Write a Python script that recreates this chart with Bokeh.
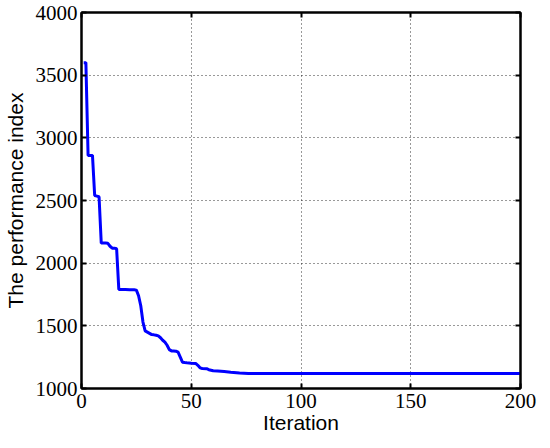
from bokeh.plotting import figure
from bokeh.models import Range1d, LinearAxis, FixedTicker
from bokeh.embed import file_html
from bokeh.resources import INLINE

iterations = [1, 2, 3, 4, 5, 6, 7, 8, 9, 10, 11, 12, 13, 14, 15, 16, 17, 18, 20, 22, 24, 25,
              26, 27, 28, 29, 30, 31, 32, 33, 34, 35, 36, 37, 38, 39, 40, 41, 42, 43, 44, 45,
              46, 47, 48, 50, 52, 53, 54, 55, 57, 58, 60, 62, 65, 68, 72, 76, 80, 100, 150, 200]
values = [3600, 3600, 2860, 2860, 2860, 2540, 2535, 2530, 2160, 2160, 2160, 2158, 2135, 2120, 2120, 2115, 1790, 1790, 1790, 1788, 1788, 1785,
          1740, 1660, 1530, 1460, 1450, 1440, 1430, 1428, 1425, 1420, 1405, 1385, 1370, 1345, 1310, 1300, 1300, 1298, 1290, 1250,
          1210, 1207, 1205, 1202, 1200, 1185, 1165, 1160, 1158, 1150, 1142, 1140, 1135, 1130, 1124, 1120, 1120, 1120, 1120, 1120]

x_ticks = [0, 50, 100, 150, 200]
y_ticks = [1000, 1500, 2000, 2500, 3000, 3500, 4000]

SERIF = "'Liberation Serif', serif"

p = figure(frame_width=439, frame_height=376, output_backend="svg", toolbar_location=None,
           x_range=Range1d(0, 200), y_range=Range1d(1000, 4000),
           x_axis_label="Iteration", y_axis_label="The performance index")
p.min_border_left = 77
p.min_border_right = 18
p.min_border_top = 12
p.min_border_bottom = 0
p.outline_line_color = "black"
p.outline_line_width = 2
p.background_fill_color = "white"
p.border_fill_color = "white"

p.xaxis.major_label_text_font = SERIF
p.yaxis.major_label_text_font = SERIF

for ax in (p.xaxis[0], p.yaxis[0]):
    ax.axis_line_width = 2
    ax.axis_line_color = "black"
    ax.major_tick_in = 5
    ax.major_tick_out = 0
    ax.major_tick_line_width = 2
    ax.minor_tick_line_color = None
    ax.major_label_text_font_size = "21px"
    ax.major_label_text_color = "black"
    ax.axis_label_text_font = "Liberation Sans"
    ax.axis_label_text_font_size = "21px"
    ax.axis_label_text_font_style = "normal"
    ax.axis_label_text_color = "black"

p.xaxis[0].ticker = FixedTicker(ticks=x_ticks)
p.yaxis[0].ticker = FixedTicker(ticks=y_ticks)
p.xaxis[0].major_label_standoff = 5
p.yaxis[0].major_label_standoff = 4
p.xaxis[0].axis_label_standoff = 0
p.yaxis[0].axis_label_standoff = 6

top = LinearAxis(ticker=FixedTicker(ticks=x_ticks), major_label_text_color=None,
                 major_tick_in=5, major_tick_out=0, major_tick_line_width=2,
                 minor_tick_line_color=None, axis_line_width=2,
                 major_label_text_font_size="0px", major_label_standoff=0)
right = LinearAxis(ticker=FixedTicker(ticks=y_ticks), major_label_text_color=None,
                   major_tick_in=5, major_tick_out=0, major_tick_line_width=2,
                   minor_tick_line_color=None, axis_line_width=2,
                   major_label_text_font_size="0px", major_label_standoff=0)
p.add_layout(top, "above")
p.add_layout(right, "right")

p.xgrid.ticker = FixedTicker(ticks=x_ticks)
p.ygrid.ticker = FixedTicker(ticks=y_ticks)
for g in (p.xgrid, p.ygrid):
    g.grid_line_color = "black"
    g.grid_line_dash = "1 3"
    g.grid_line_width = 1
    g.grid_line_alpha = 0.8

p.line(iterations, values, line_color="#0000ff", line_width=3)

open("out.html", "w").write(file_html(p, INLINE))
